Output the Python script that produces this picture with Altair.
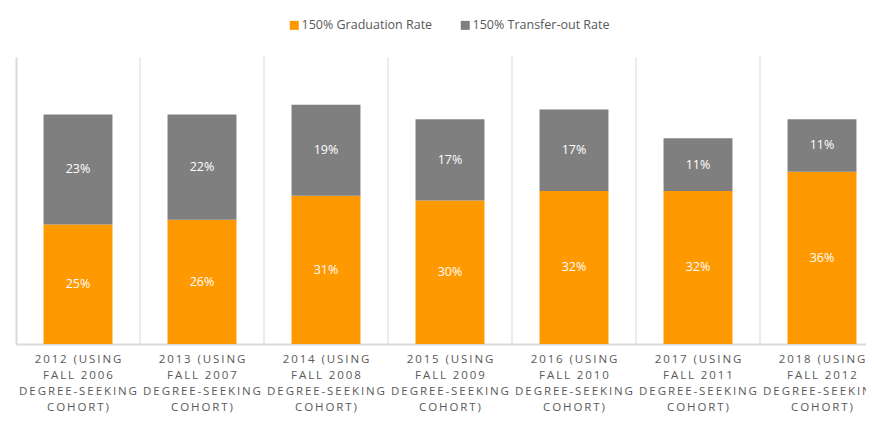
import altair as alt
import pandas as pd

years = ["2012", "2013", "2014", "2015", "2016", "2017", "2018"]
cohorts = ["2006", "2007", "2008", "2009", "2010", "2011", "2012"]
grad = [25, 26, 31, 30, 32, 32, 36]
transfer = [23, 22, 19, 17, 17, 11, 11]
series = ["150% Graduation Rate", "150% Transfer-out Rate"]
colors = ["#ff9900", "#7f7f7f"]

TS = "\u2009"


def spaced(s):
    return TS.join(list(s))


cats = [
    "|".join([spaced(f"{y} (USING"), spaced(f"FALL {c}"), spaced("DEGREE-SEEKING"), spaced("COHORT)")])
    for y, c in zip(years, cohorts)
]

rows = []
for i, cat in enumerate(cats):
    g, t = grad[i], transfer[i]
    rows.append({"cat": cat, "series": series[0], "y0": 0, "y1": g, "mid": g / 2, "lab": f"{g}%"})
    rows.append({"cat": cat, "series": series[1], "y0": g, "y1": g + t, "mid": g + t / 2, "lab": f"{t}%"})
df = pd.DataFrame(rows)

xenc = alt.X(
    "cat:N",
    sort=cats,
    scale=alt.Scale(paddingInner=0, paddingOuter=0),
    axis=alt.Axis(
        title=None,
        labelAngle=0,
        labelAlign="center",
        labelExpr="split(datum.label, '|')",
        labelLineHeight=16,
        labelPadding=9,
        labelFont="Open Sans",
        labelFontSize=11.5,
        labelColor="#595959",
        ticks=False,
        domainColor="#d9d9d9",
        domainWidth=2,
        grid=False,
        labelBaseline="top",
        labelBound=False,
        labelOverlap=False,
    ),
)
yscale = alt.Scale(domain=[0, 60], nice=False)

bars = alt.Chart(df).mark_bar(width=alt.RelativeBandSize(0.556)).encode(
    x=xenc,
    y=alt.Y("y1:Q", scale=yscale, axis=alt.Axis(title=None, labels=False, ticks=False, grid=False,
                                                 domainColor="#d9d9d9", domainWidth=2)),
    y2="y0:Q",
    color=alt.Color(
        "series:N",
        scale=alt.Scale(domain=series, range=colors),
        legend=alt.Legend(
            title=None,
            orient="none",
            direction="horizontal",
            legendX=272,
            legendY=-38,
            symbolType="square",
            symbolSize=81,
            symbolStrokeWidth=0,
            labelFont="Open Sans",
            labelFontSize=12.5,
            labelColor="#595959",
            labelOffset=1,
            columnPadding=26,
        ),
    ),
)

texts = alt.Chart(df).mark_text(color="white", font="Open Sans", fontSize=12.5).encode(
    x=alt.X("cat:N", sort=cats),
    y=alt.Y("mid:Q", scale=yscale),
    text="lab:N",
)

grid = alt.Chart(pd.DataFrame({"cat": cats[1:]})).mark_rule(color="#d9d9d9", strokeWidth=1).encode(
    x=alt.X("cat:N", sort=cats, bandPosition=0),
    y=alt.value(0),
    y2=alt.value(287),
)

chart = alt.layer(grid, bars, texts).properties(
    width=868,
    height=287,
    autosize=alt.AutoSizeParams(type="none"),
    padding={"left": 8, "top": 49, "right": -18, "bottom": 70},
).configure_view(stroke=None)

chart.save("out.html", embed_options={"renderer": "svg", "actions": False})
